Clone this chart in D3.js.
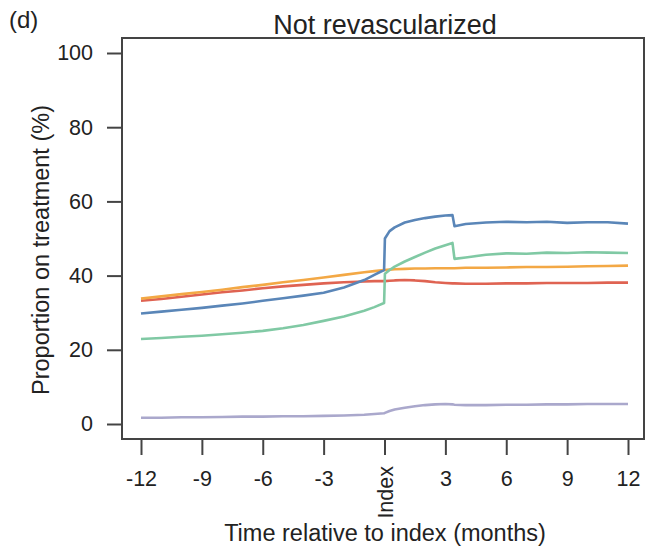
<!DOCTYPE html>
<html>
<head>
<meta charset="utf-8">
<script src="https://cdn.jsdelivr.net/npm/d3@7"></script>
<style>
  body { margin: 0; background: #fff; }
  text { font-family: "Liberation Sans", Arial, sans-serif; fill: #222; }
</style>
</head>
<body>
<div id="chart"></div>
<script>
// Chart size
var svgWidth = 649;
var svgHeight = 552;

// Time points in months relative to index (pairs around 0 and 3.4 give the steps)
var months = [-12, -11, -10, -9, -8, -7, -6, -5, -4, -3, -2, -1, -0.5, -0.02,
  0.02, 0.25, 0.5, 1, 1.5, 2, 2.5, 3, 3.35, 3.45, 4, 5, 6, 7, 8, 9, 10, 11, 12];

// Proportion on treatment (%) per series
var blueSeries = [29.8, 30.3, 30.8, 31.3, 31.9, 32.5, 33.2, 33.9, 34.6, 35.4, 36.8, 38.8, 40.2, 41.5,
  50.0, 52.0, 53.0, 54.3, 55.0, 55.5, 55.9, 56.2, 56.3, 53.3, 53.9, 54.3, 54.5, 54.4, 54.5, 54.2, 54.4, 54.4, 54.0];
var greenSeries = [22.9, 23.2, 23.5, 23.8, 24.2, 24.6, 25.1, 25.8, 26.7, 27.8, 29.0, 30.5, 31.5, 32.6,
  40.5, 41.5, 42.4, 43.8, 45.0, 46.2, 47.3, 48.2, 48.8, 44.5, 44.9, 45.6, 46.0, 45.9, 46.2, 46.1, 46.3, 46.2, 46.1];
var orangeSeries = [33.8, 34.4, 35.0, 35.6, 36.2, 36.9, 37.5, 38.2, 38.8, 39.5, 40.2, 40.9, 41.2, 41.5,
  41.5, 41.6, 41.7, 41.8, 41.9, 41.9, 42.0, 42.0, 42.0, 42.0, 42.1, 42.1, 42.2, 42.3, 42.3, 42.4, 42.5, 42.6, 42.7];
var redSeries = [33.2, 33.7, 34.3, 34.9, 35.5, 36.0, 36.6, 37.1, 37.5, 37.9, 38.2, 38.4, 38.5, 38.5,
  38.5, 38.6, 38.7, 38.8, 38.7, 38.5, 38.2, 38.0, 37.9, 37.9, 37.8, 37.8, 37.9, 37.9, 38.0, 38.0, 38.0, 38.1, 38.1];
var purpleSeries = [1.7, 1.7, 1.8, 1.8, 1.9, 2.0, 2.0, 2.1, 2.1, 2.2, 2.3, 2.5, 2.7, 2.9,
  3.0, 3.5, 3.9, 4.4, 4.8, 5.1, 5.3, 5.4, 5.3, 5.2, 5.1, 5.1, 5.2, 5.2, 5.3, 5.3, 5.4, 5.4, 5.4];

var seriesList = [purpleSeries, redSeries, orangeSeries, greenSeries, blueSeries];
var seriesColors = ["#aaa8cc", "#df6352", "#f3a845", "#80c9a4", "#5a86b8"];

// Tick labels
var xTicks = [-12, -9, -6, -3, 0, 3, 6, 9, 12];
var xTickLabels = ["-12", "-9", "-6", "-3", "Index", "3", "6", "9", "12"];
var yTicks = [0, 20, 40, 60, 80, 100];

// Plot box (R style, 4% padding around the data range)
var box = { left: 122, right: 644, top: 38, bottom: 439 };

var svg = d3.select("#chart")
  .append("svg")
  .attr("width", svgWidth)
  .attr("height", svgHeight);

var xScale = d3.scaleLinear()
  .domain([-12, 12])
  .range([141, 628]);

var yScale = d3.scaleLinear()
  .domain([0, 100])
  .range([424, 53]);

// Lines
var line = d3.line()
  .x((d, i) => xScale(months[i]))
  .y(d => yScale(d));

svg.append("g")
  .selectAll("path")
  .data(seriesList)
  .enter()
  .append("path")
  .attr("d", d => line(d))
  .attr("fill", "none")
  .attr("stroke", (d, i) => seriesColors[i])
  .attr("stroke-width", 2.6)
  .attr("stroke-linejoin", "round");

// Box
svg.append("rect")
  .attr("x", box.left)
  .attr("y", box.top)
  .attr("width", box.right - box.left)
  .attr("height", box.bottom - box.top)
  .attr("fill", "none")
  .attr("stroke", "#444")
  .attr("stroke-width", 2);

// Y axis
var leftAxis = d3.axisLeft(yScale)
  .tickValues(yTicks)
  .tickSize(15)
  .tickPadding(14);

var yAxisG = svg.append("g")
  .attr("transform", `translate(${box.left}, 0)`)
  .call(leftAxis);
yAxisG.select(".domain").remove();
yAxisG.selectAll("line").attr("stroke", "#444").attr("stroke-width", 2);
yAxisG.selectAll("text")
  .style("font-size", "21.5px")
  .attr("fill", "#222");

// X axis
var bottomAxis = d3.axisBottom(xScale)
  .tickValues(xTicks)
  .tickSize(16)
  .tickPadding(16)
  .tickFormat((d, i) => xTickLabels[i]);

var xAxisG = svg.append("g")
  .attr("transform", `translate(0, ${box.bottom})`)
  .call(bottomAxis);
xAxisG.select(".domain").remove();
xAxisG.selectAll("line").attr("stroke", "#444").attr("stroke-width", 2);
xAxisG.selectAll("text")
  .style("font-size", "21.5px")
  .attr("fill", "#222");

// "Index" label is vertical
xAxisG.selectAll(".tick text")
  .filter(d => d === 0)
  .attr("transform", "rotate(-90)")
  .attr("x", -27)
  .attr("y", 0)
  .attr("dy", "0.35em")
  .style("text-anchor", "end");

// Titles
svg.append("text")
  .attr("x", 385)
  .attr("y", 34)
  .attr("text-anchor", "middle")
  .style("font-size", "27px")
  .text("Not revascularized");

svg.append("text")
  .attr("x", 9)
  .attr("y", 28)
  .style("font-size", "24px")
  .text("(d)");

svg.append("text")
  .attr("x", 385)
  .attr("y", 541)
  .attr("text-anchor", "middle")
  .style("font-size", "23.5px")
  .text("Time relative to index (months)");

svg.append("text")
  .attr("transform", "translate(49, 250) rotate(-90)")
  .attr("text-anchor", "middle")
  .style("font-size", "23.5px")
  .text("Proportion on treatment (%)");
</script>
</body>
</html>
